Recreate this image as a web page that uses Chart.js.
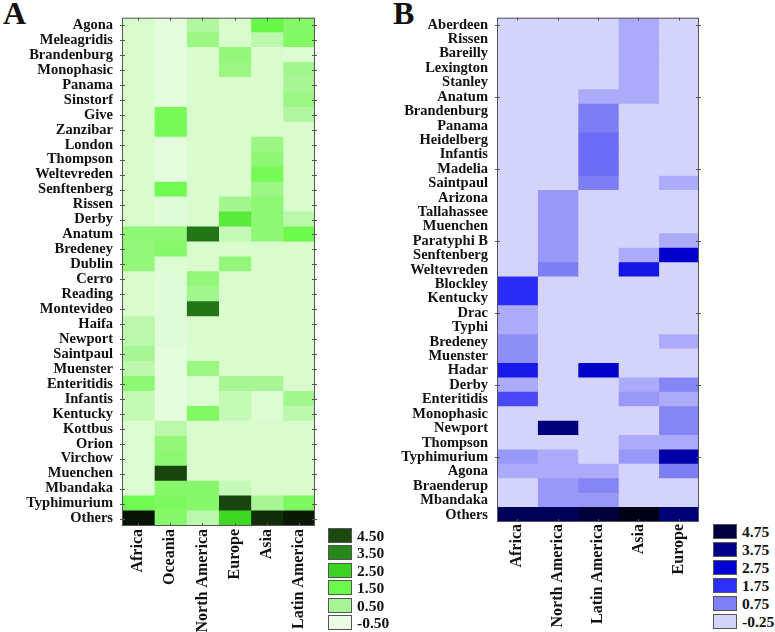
<!DOCTYPE html>
<html>
<head>
<meta charset="utf-8">
<script src="https://cdn.jsdelivr.net/npm/chart.js@4"></script>
<style>
  body { margin: 0; background: #fff; width: 775px; height: 632px; position: relative; overflow: hidden; font-family: "Liberation Serif", serif; }
  .box { position: absolute; top: 0; height: 632px; width: 330px; }
  .letter { position: absolute; top: -3px; font-weight: bold; font-size: 32px; line-height: 1; color: #111; }
  .sw { position: absolute; width: 22px; height: 13px; border: 1px solid #555; }
  .lab { position: absolute; font-weight: bold; font-size: 15.5px; line-height: 15px; color: #111; }
</style>
</head>
<body>
<div class="letter" style="left:3px">A</div>
<div class="letter" style="left:393px">B</div>
<div class="box" style="left:0"><canvas id="chartA"></canvas></div>
<div class="box" style="left:380px"><canvas id="chartB"></canvas></div>
<script>
// ---- panel A ----
const regionsA = ['Africa', 'Oceania', 'North America', 'Europe', 'Asia', 'Latin America'];
const serotypesA = ['Agona', 'Meleagridis', 'Brandenburg', 'Monophasic', 'Panama', 'Sinstorf', 'Give', 'Zanzibar',
  'London', 'Thompson', 'Weltevreden', 'Senftenberg', 'Rissen', 'Derby', 'Anatum', 'Bredeney', 'Dublin', 'Cerro',
  'Reading', 'Montevideo', 'Haifa', 'Newport', 'Saintpaul', 'Muenster', 'Enteritidis', 'Infantis', 'Kentucky',
  'Kottbus', 'Orion', 'Virchow', 'Muenchen', 'Mbandaka', 'Typhimurium', 'Others'];
const africaA   = [0, 0, 0, 0, 0, 0, 0, 0, 0, 0, 0, 0, 0, 0, 0.9, 0.8, 0.8, 0, 0, 0, 0.3, 0.3, 0.5, 0.3, 0.9, 0.2, 0.2, -0.1, -0.1, -0.1, -0.1, -0.1, 1.4, 5.5];
const oceaniaA  = [-0.3, -0.3, -0.3, -0.3, -0.3, -0.3, 1.3, 1.3, -0.3, -0.3, -0.3, 1.4, -0.2, -0.2, 0.9, 1.0, -0.1, -0.2, -0.2, -0.2, -0.2, -0.2, -0.3, -0.3, -0.3, -0.3, -0.3, 0.3, 0.8, 0.9, 4.6, 1.0, 1.2, 1.0];
const northAmA  = [0.4, 0.7, 0, 0, 0, 0, 0, 0, 0, 0, 0, 0, 0, 0, 3.8, 0, 0, 0.8, 0.6, 3.8, 0, 0, 0, 0.7, -0.1, -0.1, 1.1, 0, 0, 0, 0, 1.0, 1.0, 0.3];
const europeA   = [0, 0, 0.8, 0.7, 0, 0, 0, 0, 0, 0, 0, 0, 0.6, 1.9, 0.2, 0, 0.8, 0, 0, 0, 0, 0, 0, 0, 0.5, 0.2, 0.2, 0, 0, 0, 0, 0.2, 4.6, 2.4];
const asiaA     = [1.6, 0.3, 0, 0, 0, 0, 0, 0, 0.7, 0.9, 1.3, 0.7, 0.9, 0.9, 0.9, 0, 0, 0, 0, 0, 0, 0, 0, 0, 0.5, -0.1, -0.1, 0, 0, 0, 0, 0, 0.5, 5.0];
const latinAmA  = [1.0, 1.1, -0.1, 0.6, 0.5, 0.7, 0.4, 0, 0, 0, 0, 0, 0, 0.3, 1.5, 0, 0, 0, 0, 0, 0, 0, 0, 0, 0, 0.6, 0.3, 0, 0, 0, 0, 0, 1.2, 5.4];
const legendA = [4.5, 3.5, 2.5, 1.5, 0.5, -0.5];

// ---- panel B ----
const regionsB = ['Africa', 'North America', 'Latin America', 'Asia', 'Europe'];
const serotypesB = ['Aberdeen', 'Rissen', 'Bareilly', 'Lexington', 'Stanley', 'Anatum', 'Brandenburg', 'Panama',
  'Heidelberg', 'Infantis', 'Madelia', 'Saintpaul', 'Arizona', 'Tallahassee', 'Muenchen', 'Paratyphi B',
  'Senftenberg', 'Weltevreden', 'Blockley', 'Kentucky', 'Drac', 'Typhi', 'Bredeney', 'Muenster', 'Hadar', 'Derby',
  'Enteritidis', 'Monophasic', 'Newport', 'Thompson', 'Typhimurium', 'Agona', 'Braenderup', 'Mbandaka', 'Others'];
const africaB  = [-0.25, -0.25, -0.25, -0.25, -0.25, -0.25, -0.25, -0.25, -0.25, -0.25, -0.25, -0.25, -0.25, -0.25, -0.25, -0.25, -0.25, -0.25, 1.8, 1.8, 0.3, 0.3, 0.6, 0.6, 2.2, 0.3, 1.5, -0.25, -0.25, -0.25, 0.5, 0.3, -0.25, -0.25, 4.4];
const northAmB = [-0.25, -0.25, -0.25, -0.25, -0.25, -0.25, -0.25, -0.25, -0.25, -0.25, -0.25, -0.25, 0.5, 0.5, 0.5, 0.5, 0.5, 0.8, -0.25, -0.25, -0.25, -0.25, -0.25, -0.25, -0.25, -0.25, -0.25, -0.25, 3.9, -0.25, 0.3, 0.3, 0.5, 0.5, 4.4];
const latinAmB = [-0.25, -0.25, -0.25, -0.25, -0.25, 0.3, 0.8, 0.8, 1.1, 1.1, 1.1, 0.8, -0.25, -0.25, -0.25, -0.25, -0.25, -0.25, -0.25, -0.25, -0.25, -0.25, -0.25, -0.25, 2.9, -0.25, -0.25, -0.25, -0.25, -0.25, -0.25, 0.3, 0.7, 0.5, 4.8];
const asiaB    = [0.3, 0.3, 0.3, 0.3, 0.3, 0.3, -0.25, -0.25, -0.25, -0.25, -0.25, -0.25, -0.25, -0.25, -0.25, -0.25, 0.3, 2.3, -0.25, -0.25, -0.25, -0.25, -0.25, -0.25, -0.25, 0.3, 0.5, -0.25, -0.25, 0.3, 0.5, -0.25, -0.25, -0.25, 5.4];
const europeB  = [-0.25, -0.25, -0.25, -0.25, -0.25, -0.25, -0.25, -0.25, -0.25, -0.25, -0.25, 0.3, -0.25, -0.25, -0.25, 0.3, 2.9, -0.25, -0.25, -0.25, -0.25, -0.25, 0.3, -0.25, -0.25, 0.7, 0.3, 0.7, 0.7, 0.3, 3.3, 0.8, -0.25, -0.25, 4.0];
const legendB = [4.75, 3.75, 2.75, 1.75, 0.75, -0.25];

// colour ramps
const greenStops = [[-0.5, [236, 253, 230]], [0, [216, 252, 204]], [0.5, [168, 245, 150]], [1.0, [135, 248, 106]],
  [1.5, [108, 251, 76]], [2.5, [58, 211, 34]], [3.5, [40, 135, 28]], [4.5, [26, 74, 14]], [5.5, [8, 18, 4]]];
const blueStops = [[-0.25, [212, 212, 251]], [0.25, [176, 176, 249]], [0.75, [128, 128, 246]], [1.25, [100, 100, 248]],
  [1.75, [46, 46, 250]], [2.75, [0, 0, 214]], [3.75, [0, 0, 136]], [4.75, [0, 0, 64]], [5.5, [0, 0, 16]]];

function ramp(stops, v) {
  const c = a => `rgb(${a.map(Math.round).join(',')})`;
  if (v <= stops[0][0]) return c(stops[0][1]);
  for (let i = 1; i < stops.length; i++) {
    if (v <= stops[i][0]) {
      const t = (v - stops[i - 1][0]) / (stops[i][0] - stops[i - 1][0]);
      return c(stops[i - 1][1].map((x, k) => x + (stops[i][1][k] - x) * t));
    }
  }
  return c(stops[stops.length - 1][1]);
}

const font = { family: 'Liberation Serif', size: 14.5, weight: 'bold' };

// frame + small inner ticks
const frame = step => ({
  id: 'frame',
  afterDraw(chart) {
    const { ctx, chartArea: a, scales: { x, y } } = chart;
    ctx.save();
    ctx.strokeStyle = '#555';
    ctx.lineWidth = 1;
    ctx.strokeRect(a.left + 0.5, a.top + 0.5, a.width - 1, a.height - 1);
    ctx.beginPath();
    y.ticks.forEach((t, i) => {
      if (i % step) return;
      const py = Math.round(y.getPixelForTick(i)) + 0.5;
      ctx.moveTo(a.left - 2, py); ctx.lineTo(a.left + 3, py);
      ctx.moveTo(a.right - 3, py); ctx.lineTo(a.right + 2, py);
    });
    x.ticks.forEach(t => {
      const px = Math.round(x.getPixelForValue(t.value)) + 0.5;
      ctx.moveTo(px, a.top); ctx.lineTo(px, a.top + 3);
      ctx.moveTo(px, a.bottom); ctx.lineTo(px, a.bottom - 3);
    });
    ctx.stroke();
    ctx.restore();
  }
});

function heatmap(id, rows, cols, series, stops, o) {
  new Chart(document.getElementById(id), {
    type: 'bar',
    data: {
      labels: rows,
      datasets: series.map((vals, j) => ({
        label: cols[j],
        data: vals.map(() => 1),
        backgroundColor: vals.map(v => ramp(stops, v)),
        borderWidth: 0,
        inflateAmount: 0.5,
        barPercentage: 1,
        categoryPercentage: 1
      }))
    },
    options: {
      indexAxis: 'y',
      responsive: true,
      maintainAspectRatio: false,
      animation: false,
      layout: { padding: { top: 8, right: o.right, left: 0, bottom: 0 } },
      plugins: { legend: { display: false }, tooltip: { enabled: false } },
      scales: {
        x: {
          type: 'linear', stacked: true, min: 0, max: cols.length,
          grid: { display: false, drawTicks: false }, border: { display: false },
          afterBuildTicks: s => { s.ticks = cols.map((c, i) => ({ value: i + 0.5 })); },
          afterFit: s => { s.height = o.xh; },
          ticks: { autoSkip: false, minRotation: 90, maxRotation: 90, padding: o.xpad, color: '#111',
                   font: { family: 'Liberation Serif', size: 16, weight: 'bold' },
                   callback: (v, i) => cols[i] }
        },
        y: {
          stacked: true,
          grid: { display: false, drawTicks: false }, border: { display: false },
          afterFit: s => { s.width = o.yw; },
          ticks: { autoSkip: false, padding: 9, color: '#111', font: font }
        }
      }
    },
    plugins: [frame(o.step)]
  });
}

heatmap('chartA', serotypesA, regionsA, [africaA, oceaniaA, northAmA, europeA, asiaA, latinAmA], greenStops,
  { yw: 122, xh: 106, right: 15, step: 1, xpad: 3 });
heatmap('chartB', serotypesB, regionsB, [africaB, northAmB, latinAmB, asiaB, europeB], blueStops,
  { yw: 117, xh: 110, right: 11, step: 5, xpad: 2 });

// colour keys
function key(values, stops, x, y, pitch) {
  values.forEach((v, i) => {
    const sw = document.createElement('div');
    sw.className = 'sw';
    sw.style.left = x + 'px';
    sw.style.top = (y + i * pitch) + 'px';
    sw.style.background = ramp(stops, v);
    document.body.appendChild(sw);
    const lab = document.createElement('div');
    lab.className = 'lab';
    lab.style.left = (x + 29) + 'px';
    lab.style.top = (y + i * pitch) + 'px';
    lab.textContent = v.toFixed(2);
    document.body.appendChild(lab);
  });
}
key(legendA, greenStops, 328, 528, 17.4);
key(legendB, blueStops, 713, 524, 17.9);
</script>
</body>
</html>
